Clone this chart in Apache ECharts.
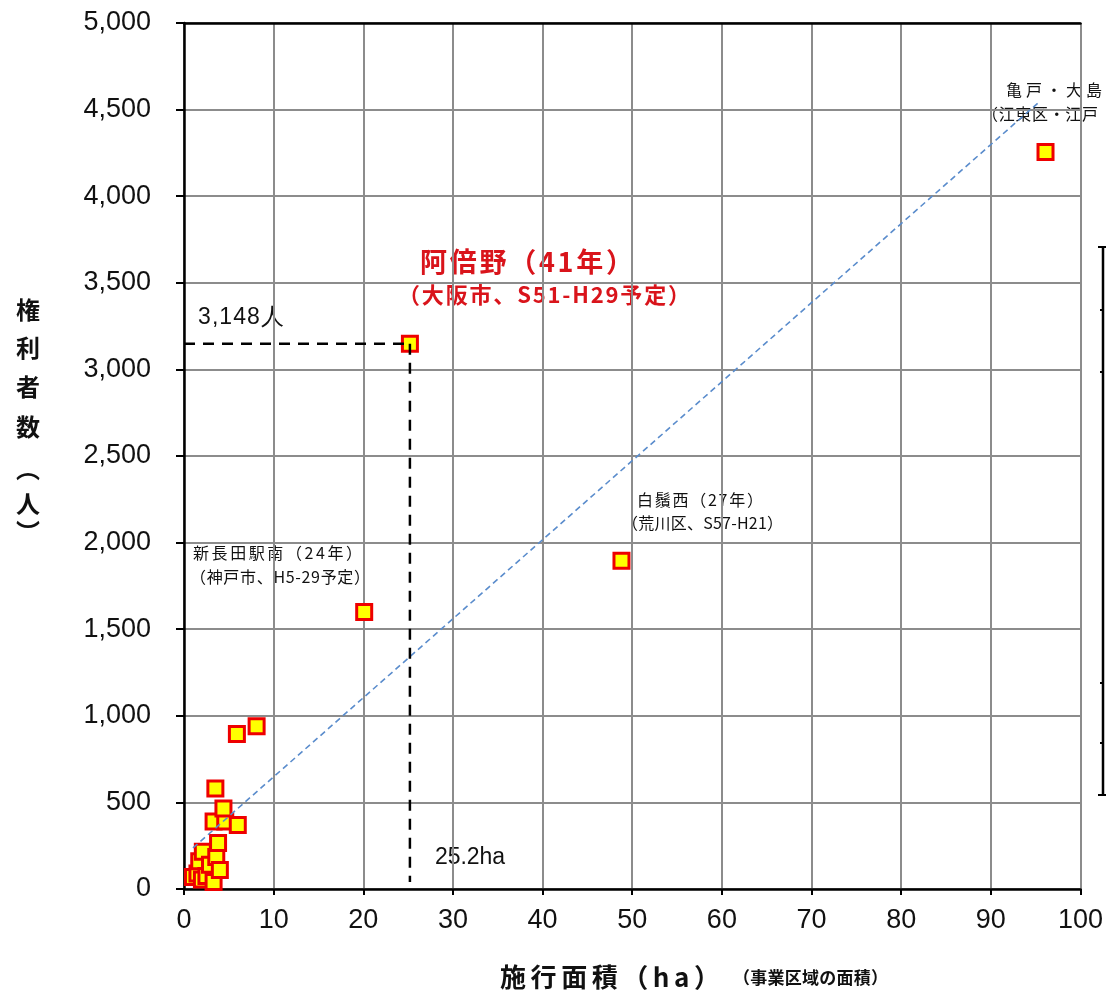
<!DOCTYPE html>
<html><head><meta charset="utf-8">
<script src="https://cdn.jsdelivr.net/npm/echarts@6/dist/echarts.min.js"></script>
<style>html,body{margin:0;padding:0;background:#fff}#c{width:1106px;height:991px}</style>
</head><body><div id="c"></div>
<script>
// ---- data ----
const projectPoints = [
  [1.0, 70], [1.5, 90], [1.7, 160], [2.1, 215], [2.0, 55], [2.5, 75], [2.9, 140],
  [3.3, 40], [3.6, 185], [4.0, 110], [3.8, 265], [3.3, 390], [4.6, 390], [6.0, 370],
  [4.4, 465], [3.5, 580], [5.9, 895], [8.1, 940],
  [20.1, 1600], [48.8, 1895], [25.2, 3148], [96.1, 4255]
];
const trendLine = [[1.0, 237], [95.3, 4540]];
const abenoPoint = [25.2, 3148];
const abenoFloor = 40;
const xTicks = {min: 0, max: 100, interval: 10};
const yTicks = {min: 0, max: 5000, interval: 500};

const tickFont = "'Liberation Sans', Arial, sans-serif";
const jpFont = "'Noto Sans CJK JP', sans-serif";

// spaced text: spreads characters between x0 and x1 (annotation helper)
const mctx = document.createElement('canvas').getContext('2d');
function spaced(text, x0, x1, yc, size, opts) {
  opts = opts || {};
  const weight = opts.bold ? 'bold' : 'normal';
  const fam = opts.family || jpFont;
  mctx.font = weight + ' ' + size + 'px ' + fam;
  const chars = Array.from(text);
  const widths = chars.map(c => mctx.measureText(c).width);
  const total = widths.reduce((a, b) => a + b, 0);
  const gap = chars.length > 1 ? ((x1 - x0) - total) / (chars.length - 1) : 0;
  let x = x0;
  const children = chars.map((c, i) => {
    const el = {type: 'text', x: x, y: yc, style: {text: c, fontSize: size, fontWeight: weight,
      fontFamily: fam, fill: opts.color || '#111', verticalAlign: 'middle', align: 'left'}};
    x += widths[i] + gap;
    return el;
  });
  return {type: 'group', children: children};
}

const yName = ['権', '利', '者', '数', '︵', '人', '︶'];
const yNamePos = [310, 348, 387, 427, 469, 504, 532];

const chart = echarts.init(document.getElementById('c'));
chart.setOption({
  animation: false,
  backgroundColor: '#fff',
  grid: {left: 184, right: 23, top: 23, bottom: 102},
  xAxis: [{
    type: 'value', min: xTicks.min, max: xTicks.max, interval: xTicks.interval,
    axisLine: {lineStyle: {color: '#000', width: 2.5}},
    axisTick: {show: true, length: 6, inside: false, lineStyle: {color: '#000', width: 2}},
    axisLabel: {color: '#111', fontSize: 27, fontFamily: tickFont, margin: 18},
    splitLine: {lineStyle: {color: '#8c8c8c', width: 2}}
  }, {
    type: 'value', position: 'top', min: xTicks.min, max: xTicks.max, interval: xTicks.interval,
    axisLine: {show: true, lineStyle: {color: '#000', width: 2.5}},
    axisTick: {show: false}, axisLabel: {show: false}, splitLine: {show: false}
  }],
  yAxis: {
    type: 'value', min: yTicks.min, max: yTicks.max, interval: yTicks.interval,
    axisLine: {show: true, lineStyle: {color: '#000', width: 2.5}},
    axisTick: {show: true, length: 8, lineStyle: {color: '#000', width: 2}},
    axisLabel: {color: '#111', fontSize: 27, fontFamily: tickFont, margin: 33,
      formatter: v => v.toLocaleString('en-US')},
    splitLine: {lineStyle: {color: '#8c8c8c', width: 2}}
  },
  series: [
    {type: 'line', data: trendLine, symbol: 'none', silent: true,
     lineStyle: {color: '#5a8ccc', width: 1.6, type: [6, 4]}},
    {type: 'line', data: [[0, abenoPoint[1]], abenoPoint], symbol: 'none', silent: true,
     lineStyle: {color: '#000', width: 2.5, type: [11, 8]}},
    {type: 'line', data: [abenoPoint, [abenoPoint[0], abenoFloor]], symbol: 'none', silent: true,
     lineStyle: {color: '#000', width: 2.5, type: [11, 8]}},
    {type: 'scatter', data: projectPoints, symbol: 'rect', symbolSize: 15,
     itemStyle: {color: '#ffff00', borderColor: '#ee0000', borderWidth: 3, opacity: 1}}
  ],
  graphic: [
    spaced('3,148人', 198, 284, 318, 23, {family: tickFont}),
    spaced('25.2ha', 435, 505, 858, 23, {family: tickFont}),
    spaced('阿倍野（41年）', 420, 633, 262, 27, {bold: true, color: '#d9141b'}),
    spaced('（大阪市、S51-H29予定）', 398, 690, 295, 22, {bold: true, color: '#d9141b'}),
    spaced('新長田駅南（24年）', 193, 362, 553, 16),
    spaced('（神戸市、H5-29予定）', 190, 370, 577, 16),
    spaced('白鬚西（27年）', 637, 763, 500, 16),
    spaced('（荒川区、S57-H21）', 622, 783, 523, 16),
    spaced('亀戸・大島', 1006, 1102, 90, 16),
    spaced('（江東区・江戸', 982, 1098, 114, 16),
    {type: 'group', children: yName.map((c, i) => ({type: 'text', x: 28, y: yNamePos[i],
      style: {text: c, fontSize: 24, fontWeight: 'bold', fontFamily: jpFont, fill: '#111', align: 'center', verticalAlign: 'middle'}}))},
    spaced('施行面積（ha）', 500, 720, 977, 26, {bold: true}),
    spaced('（事業区域の面積）', 733, 888, 978, 17, {bold: true}),
    {type: 'line', shape: {x1: 1103, y1: 247, x2: 1103, y2: 795}, style: {stroke: '#000', lineWidth: 2.5}},
    {type: 'line', shape: {x1: 1098, y1: 247, x2: 1106, y2: 247}, style: {stroke: '#000', lineWidth: 2}},
    {type: 'line', shape: {x1: 1098, y1: 795, x2: 1106, y2: 795}, style: {stroke: '#000', lineWidth: 2}},
    {type: 'line', shape: {x1: 1100, y1: 310, x2: 1103, y2: 310}, style: {stroke: '#000', lineWidth: 2}},
    {type: 'line', shape: {x1: 1100, y1: 372, x2: 1103, y2: 372}, style: {stroke: '#000', lineWidth: 2}},
    {type: 'line', shape: {x1: 1100, y1: 683, x2: 1103, y2: 683}, style: {stroke: '#000', lineWidth: 2}},
    {type: 'line', shape: {x1: 1100, y1: 743, x2: 1103, y2: 743}, style: {stroke: '#000', lineWidth: 2}}
  ]
});
</script></body></html>
